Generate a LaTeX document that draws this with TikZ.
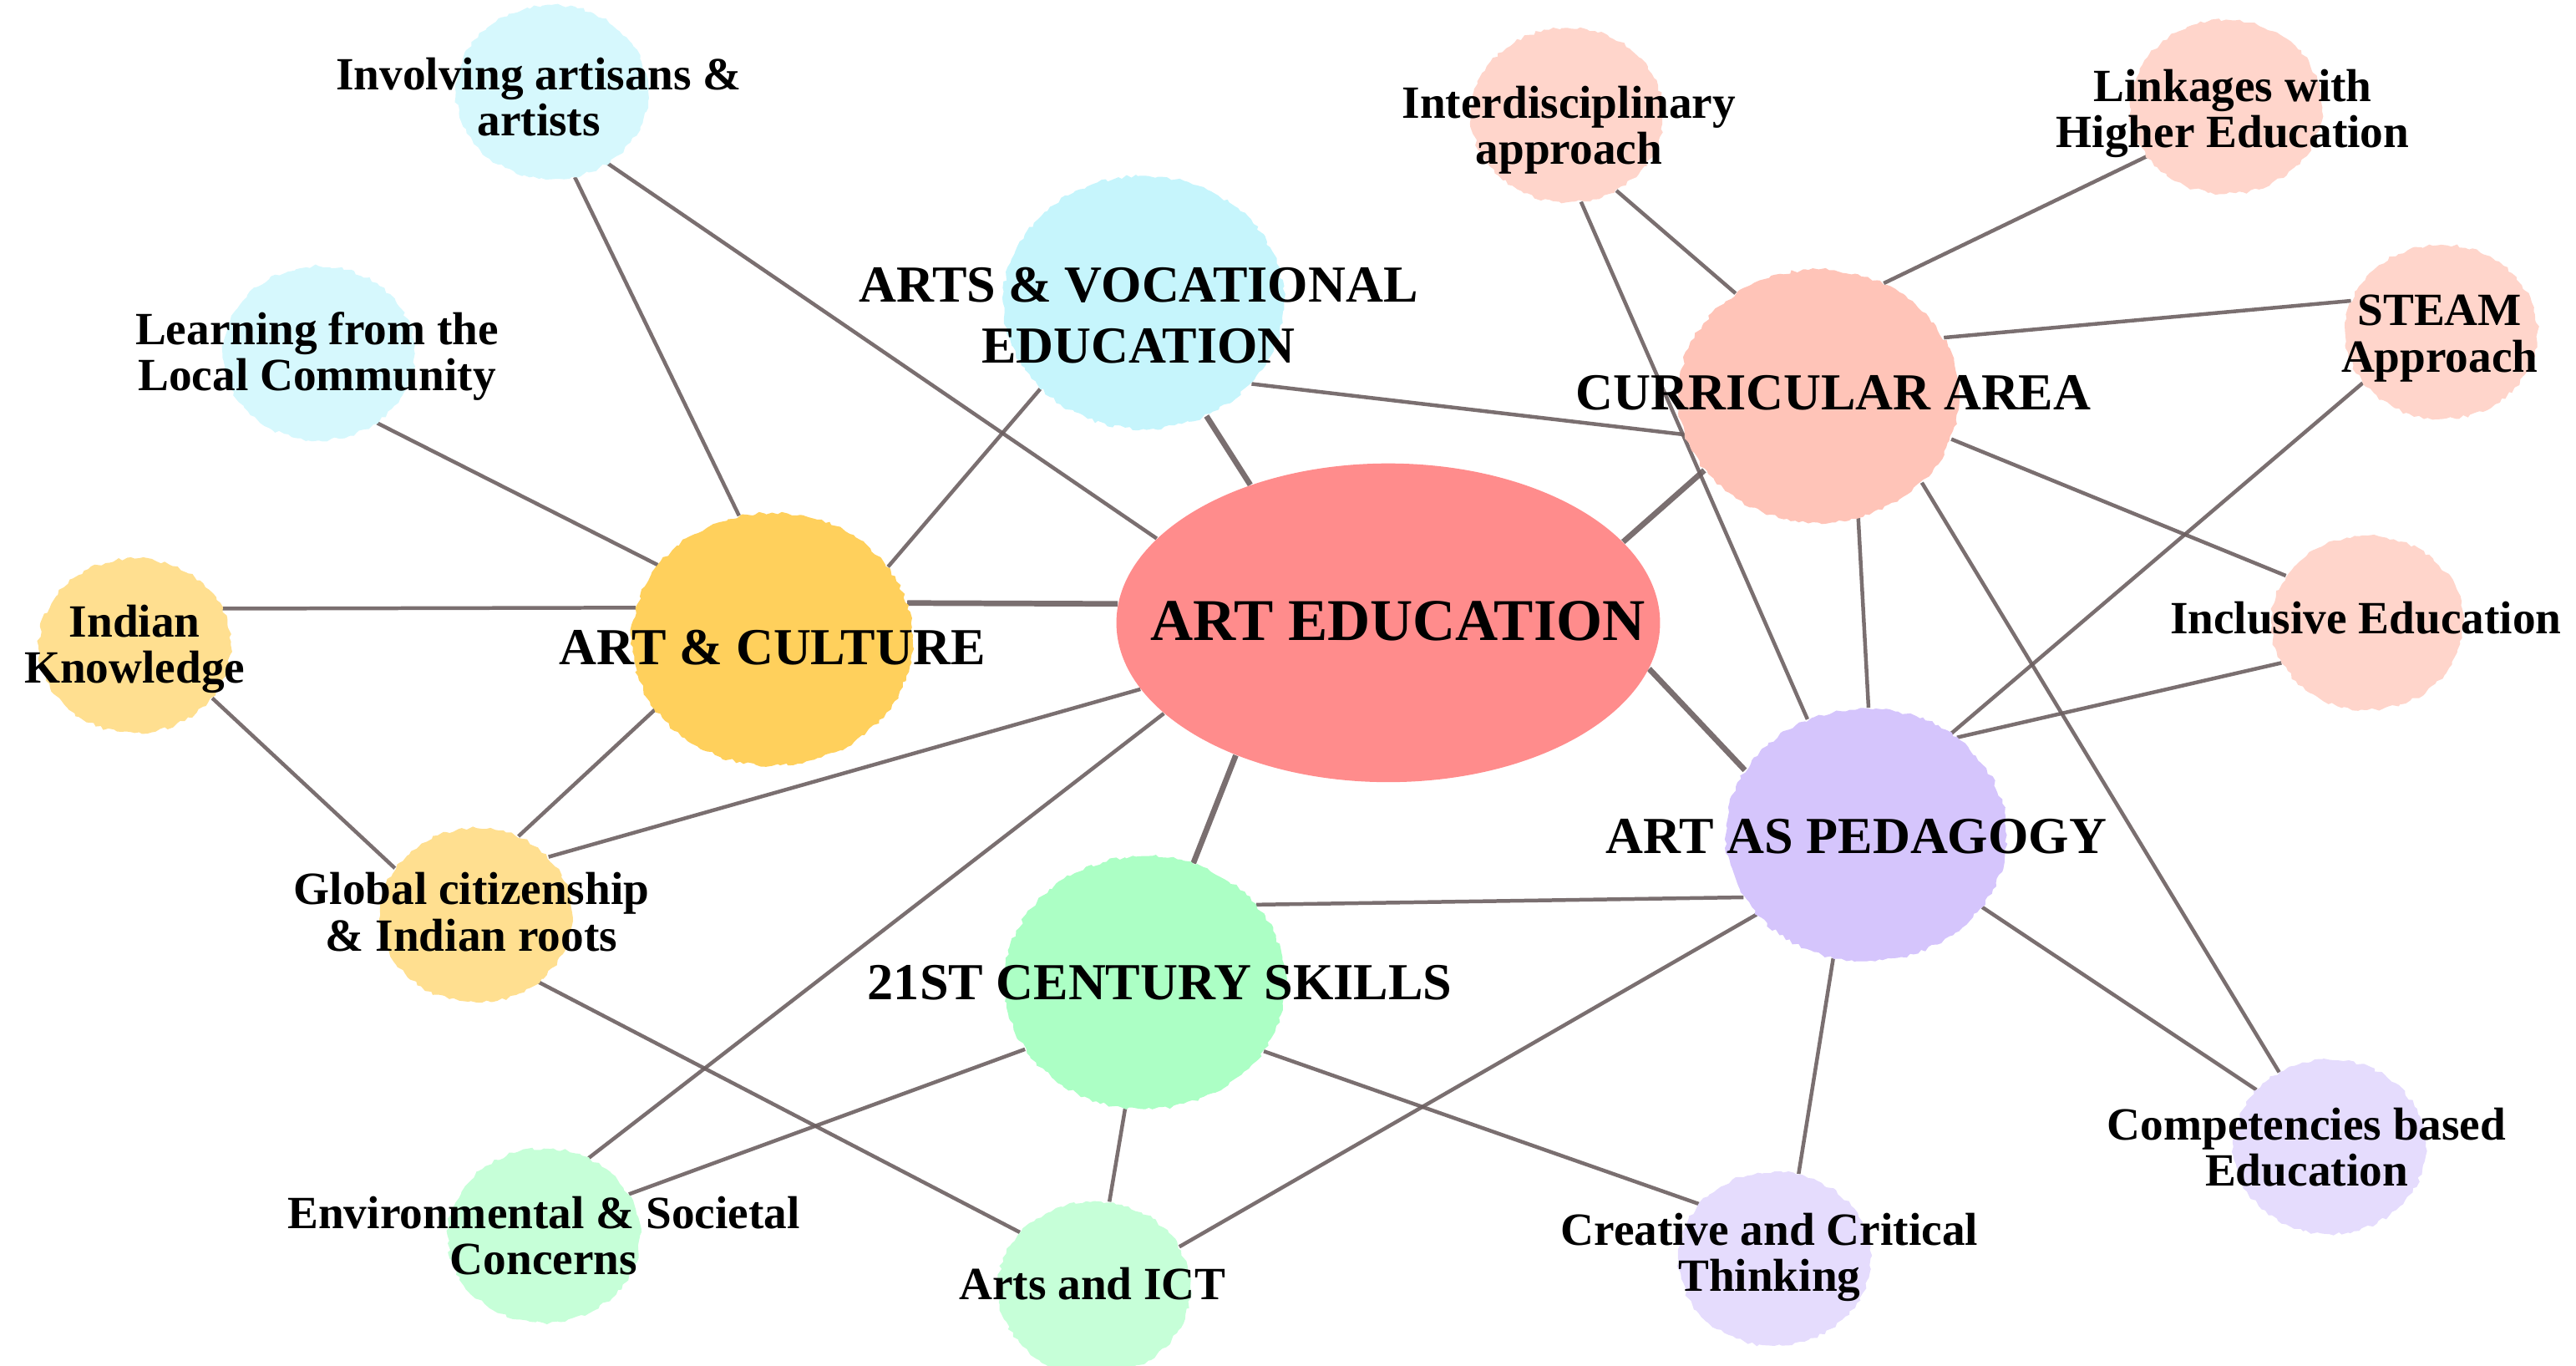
\documentclass[tikz,border=0pt]{standalone}
\usepackage{fontspec}
\setmainfont{Liberation Serif}
\usepackage{xcolor}
\usepackage{tikz}
\usetikzlibrary{shapes.geometric}
\usetikzlibrary{backgrounds}
\usetikzlibrary{decorations.pathmorphing}

\definecolor{linkcol}{RGB}{108,95,96}
\definecolor{edufill}{HTML}{FF8C8C}
\definecolor{vocfill}{HTML}{C6F5FC}
\definecolor{voclight}{HTML}{D6F8FD}
\definecolor{curfill}{HTML}{FFC4B8}
\definecolor{curlight}{HTML}{FFD5CB}
\definecolor{culfill}{HTML}{FFD05C}
\definecolor{cullight}{HTML}{FFDF90}
\definecolor{pedfill}{HTML}{D5C5FC}
\definecolor{pedlight}{HTML}{E5DCFD}
\definecolor{skfill}{HTML}{ACFFC5}
\definecolor{sklight}{HTML}{C6FFD8}

\begin{document}
\begin{tikzpicture}
          [x=0.02cm, y=-0.02cm,
           blob/.style={ellipse, inner sep=0pt, minimum width=2.34cm, minimum height=2.12cm,
                        decorate, decoration={random steps, segment length=1.5pt, amplitude=0.6pt}},
           bigblob/.style={blob, minimum width=3.42cm, minimum height=3.08cm},
           smalltxt/.style={font=\bfseries\fontsize{16}{16}\selectfont, align=center, inner sep=0pt},
           bigtxt/.style={font=\bfseries\fontsize{18}{21}\selectfont, align=center, inner sep=0pt},
           link/.style={draw=linkcol, draw opacity=0.9, line width=1.3pt},
           mainlink/.style={link, line width=1.95pt}]
          \pgfmathsetseed{17}
          \useasboundingbox (0,0) rectangle (1568,831);

          \node (edu) [ellipse, inner sep=0pt, fill=edufill, minimum width=6.62cm, minimum height=3.88cm] at (845,379) {};
          \node (voc) [bigblob, fill=vocfill] at (696,184) {};
          \node (cur) [bigblob, fill=curfill] at (1107,241) {};
          \node (cul) [bigblob, fill=culfill] at (470,389) {};
          \node (ped) [bigblob, fill=pedfill] at (1136,508) {};
          \node (sk) [bigblob, fill=skfill] at (697,598) {};

          \node (inv) [blob, fill=voclight] at (336,56) {};
          \node (lrn) [blob, fill=voclight] at (194,215) {};
          \node (ik) [blob, fill=cullight] at (82,393) {};
          \node (glb) [blob, fill=cullight] at (290,557) {};
          \node (env) [blob, fill=sklight] at (331,752) {};
          \node (ict) [blob, fill=sklight] at (666,784) {};
          \node (crt) [blob, fill=pedlight] at (1080,766) {};
          \node (cmp) [blob, fill=pedlight] at (1418,698) {};
          \node (inc) [blob, fill=curlight] at (1441,379) {};
          \node (stm) [blob, fill=curlight] at (1486,202) {};
          \node (lnk) [blob, fill=curlight] at (1355,65) {};
          \node (itd) [blob, fill=curlight] at (954,70) {};

          \begin{scope}[on background layer]
          \draw[mainlink] (cul.15) -- (edu.176);
          \draw[mainlink] (voc.-61) -- (edu.135);
          \draw[mainlink] (cur.213) -- (edu.19);
          \draw[mainlink] (edu.-10) -- (ped.152);
          \draw[mainlink] (edu.221) -- (sk.68);

          \draw[link] (inv.-52) -- (edu.160);
          \draw[link] (inv.-75) -- (cul.105);
          \draw[link] (lrn.-50) -- (cul.147);
          \draw[link] (ik.23) -- (cul.167);
          \draw[link] (ik.-34) -- (glb.150);
          \draw[link] (cul.211) -- (glb.62);
          \draw[link] (glb.39) -- (edu.195);
          \draw[link] (glb.-47) -- (ict.143);
          \draw[link] (cul.32) -- (voc.220);
          \draw[link] (voc.-37) -- (cur.196);

          \draw[link] (itd.-57) -- (cur.129);
          \draw[link] (itd.-81) -- (ped.117);
          \draw[link] (lnk.212) -- (cur.60);
          \draw[link] (stm.161) -- (cur.25);
          \draw[link] (cur.-18) -- (inc.150);
          \draw[link] (cur.-72) -- (ped.89);
          \draw[link] (cur.-40) -- (cmp.124);
          \draw[link] (stm.213) -- (ped.50);
          \draw[link] (inc.205) -- (ped.47);

          \draw[link] (ped.207) -- (sk.35);
          \draw[link] (ped.216) -- (ict.26);
          \draw[link] (ped.255) -- (crt.74);
          \draw[link] (ped.-32) -- (cmp.142);
          \draw[link] (sk.-30) -- (crt.144);
          \draw[link] (sk.209) -- (env.26);
          \draw[link] (sk.261) -- (ict.80);
          \draw[link] (edu.202) -- (env.60);
          \end{scope}

          \node (edut) [bigtxt, font=\bfseries\fontsize{20.5}{24}\selectfont] at (851,378) {ART EDUCATION};
          \node (voct) [bigtxt] at (693,192) {ARTS \& VOCATIONAL\\EDUCATION};
          \node (curt) [bigtxt] at (1116,239) {CURRICULAR AREA};
          \node (cult) [bigtxt] at (470,394) {ART \& CULTURE};
          \node (pedt) [bigtxt] at (1130,509) {ART AS PEDAGOGY};
          \node (skt) [bigtxt] at (706,598) {21ST CENTURY SKILLS};

          \node (invt) [smalltxt] at (328,59) {Involving artisans \&\\artists};
          \node (lrnt) [smalltxt] at (193,217) {Learning from the\\Local Community};
          \node (ikt) [smalltxt] at (82,395) {Indian\\Knowledge};
          \node (glbt) [smalltxt] at (287,555) {Global citizenship\\\& Indian roots};
          \node (envt) [smalltxt] at (331,752) {Environmental \& Societal\\Concerns};
          \node (ictt) [smalltxt] at (665,781) {Arts and ICT};
          \node (crtt) [smalltxt] at (1077,765) {Creative and Critical\\Thinking};
          \node (cmpt) [smalltxt] at (1404,698) {Competencies based\\Education};
          \node (inct) [smalltxt] at (1440,376) {Inclusive Education};
          \node (stmt) [smalltxt] at (1485,206) {STEAM\\Approach};
          \node (lnkt) [smalltxt] at (1359,69) {Linkages with\\Higher Education};
          \node (itdt) [smalltxt] at (955,79) {Interdisciplinary\\approach};

        \end{tikzpicture}
\end{document}
